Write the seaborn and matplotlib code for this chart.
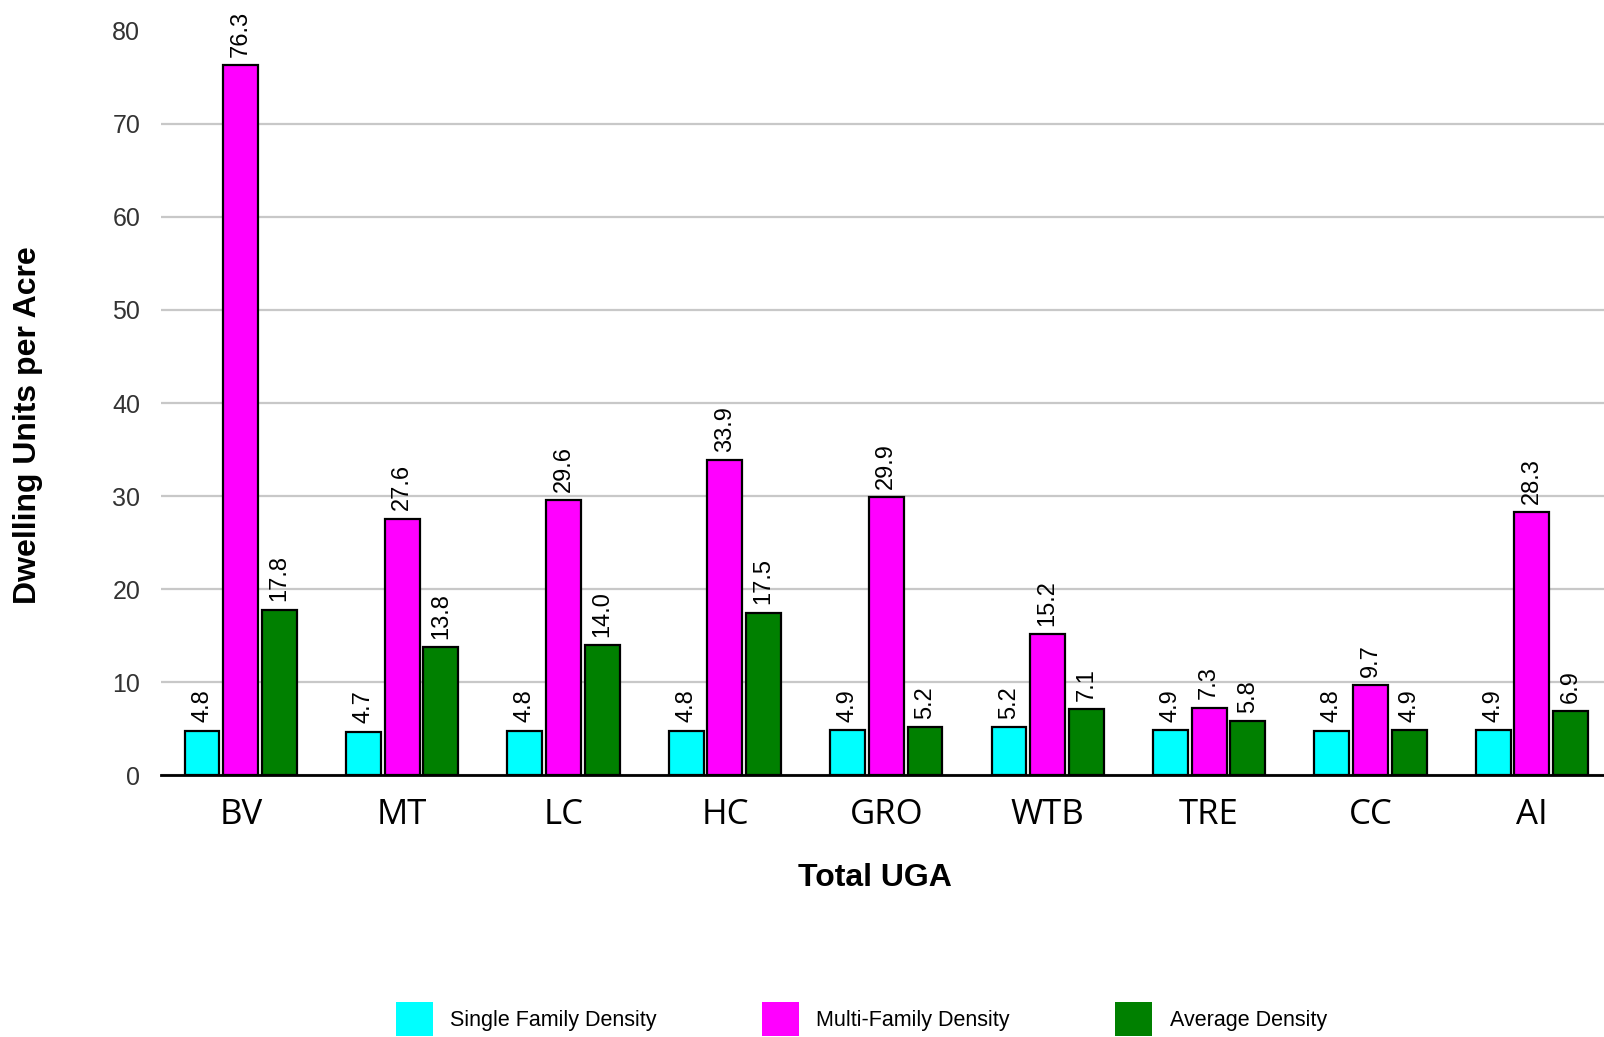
import numpy as np
import pandas as pd
import seaborn as sns
import matplotlib.pyplot as plt
from matplotlib.patches import Patch

# values
uga = ['BV', 'MT', 'LC', 'HC', 'GRO', 'WTB', 'TRE', 'CC', 'AI']
single_family = [4.8, 4.7, 4.8, 4.8, 4.9, 5.2, 4.9, 4.8, 4.9]
multi_family = [76.3, 27.6, 29.6, 33.9, 29.9, 15.2, 7.3, 9.7, 28.3]
average = [17.8, 13.8, 14.0, 17.5, 5.2, 7.1, 5.8, 4.9, 6.9]
series = ['Single Family Density', 'Multi-Family Density', 'Average Density']
colors = ['#00ffff', '#ff00ff', '#008000']

df = pd.DataFrame({'UGA': uga,
                   series[0]: single_family,
                   series[1]: multi_family,
                   series[2]: average})
long = df.melt(id_vars='UGA', var_name='Series', value_name='Density')

sns.set_style('white')
plt.rcParams['font.family'] = ['Liberation Sans', 'DejaVu Sans']
plt.rcParams['text.color'] = 'black'
plt.rcParams['axes.labelcolor'] = 'black'
plt.rcParams['xtick.color'] = 'black'
plt.rcParams['ytick.color'] = 'black'

fig = plt.figure(figsize=(16.04, 10.37), dpi=100)
ax = fig.add_axes([0.1004, 0.2522, 0.8996, 0.7182])

sns.barplot(data=long, x='UGA', y='Density', hue='Series', hue_order=series,
            palette=colors, saturation=1, width=0.72, gap=0.1, edgecolor='black',
            linewidth=1.6, legend=False, ax=ax, zorder=3)

for c in ax.containers:
    ax.bar_label(c, fmt='%.1f', rotation=90, padding=6, fontsize=17,
                 color='black')

ax.set_ylim(0, 80)
ax.set_xlim(-0.494, 8.447)
ax.set_yticks(np.arange(0, 81, 10))
ax.yaxis.grid(True, color='#c8c8c8', linewidth=1.6, zorder=0)
ax.yaxis.get_gridlines()[-1].set_visible(False)
ax.set_axisbelow(True)

for s in ['top', 'right', 'left']:
    ax.spines[s].set_visible(False)
ax.spines['bottom'].set_color('black')
ax.spines['bottom'].set_linewidth(2)

ax.tick_params(axis='y', length=0, pad=15, labelsize=18, labelcolor='#333333')
ax.tick_params(axis='x', length=0, pad=16, labelcolor='black')
for lab in ax.get_xticklabels():
    lab.set_fontfamily(['Open Sans', 'DejaVu Sans'])
    lab.set_fontsize(25)

ax.set_xlabel('Total UGA', fontsize=23, fontweight='bold', color='black')
ax.xaxis.set_label_coords(0.495, -0.117)
ax.set_ylabel('Dwelling Units per Acre', fontsize=23, fontweight='bold', color='black')
ax.yaxis.set_label_coords(-0.082, 0.471)

handles = [Patch(facecolor=col, edgecolor='none', label=s) for s, col in zip(series, colors)]
fig.legend(handles=handles, loc='center', bbox_to_anchor=(0.537, 0.0174), ncol=3,
           frameon=False, fontsize=15.5, handlelength=1.72, handleheight=2.0,
           handletextpad=0.8, columnspacing=4.9, labelcolor='black')

fig.savefig('out.png', dpi=100)
